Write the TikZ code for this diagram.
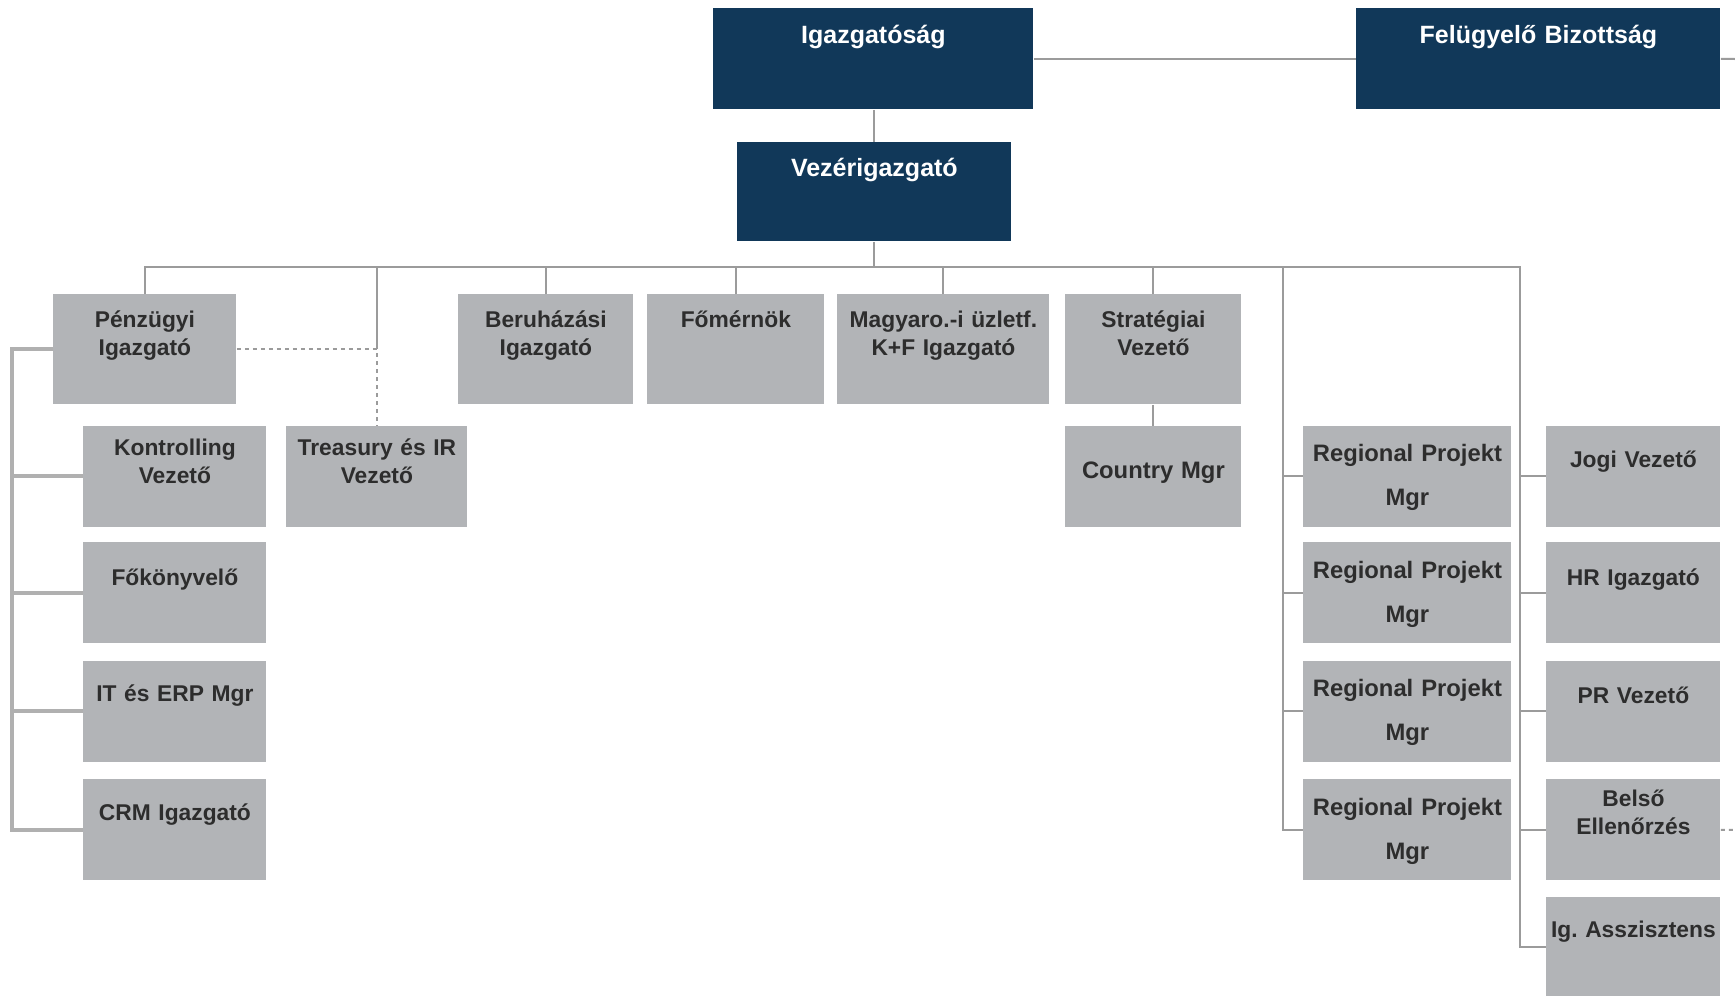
\documentclass[tikz,border=0pt]{standalone}
\usepackage{fontspec}
\newfontfamily\arialf{Liberation Sans}
\definecolor{navy}{RGB}{17,56,89}
\definecolor{boxgray}{RGB}{178,180,183}
\definecolor{linegray}{RGB}{155,155,155}
\definecolor{brkgray}{RGB}{176,176,176}
\definecolor{txtgray}{RGB}{45,45,45}
\newcommand\bosstxt{\arialf\bfseries\fontsize{12.5}{15}\selectfont}
\newcommand\unittxt{\arialf\bfseries\fontsize{11.4}{14}\selectfont}
\newcommand\regtxt{\arialf\bfseries\fontsize{11.9}{22}\selectfont}
\begin{document}
\begin{tikzpicture}[x=0.5pt,y=-0.5pt,
  boss/.style={fill=navy,text=white,font=\bosstxt,inner sep=0pt,align=center,anchor=north west,text height=17.5pt,text depth=33pt},
  unit/.style={fill=boxgray,text=txtgray,font=\unittxt,inner sep=0pt,align=center,anchor=north west},
  lv/.style={text height=#1,text depth=50.5pt-#1},
  toprow/.style={text height=#1,text depth=55pt-#1},
  reg/.style={unit,font=\regtxt,text width=104pt,lv=18pt},
  link/.style={draw=linegray,line width=1pt},
  brk/.style={draw=brkgray,line width=2pt},
  dots/.style={draw=linegray,line width=1pt,dash pattern=on 2pt off 2pt}]
  \useasboundingbox[fill=white] (0,0) rectangle (1735,996);

  \node[boss,text width=160pt] (igaz) at (713,8) {Igazgatóság};
  \node[boss,text width=182pt] (felu) at (1356,8) {Felügyelő Bizottság};
  \node[boss,text width=137pt,text height=17pt,text depth=32.5pt] (vez) at (737,142) {Vezérigazgató};

  \node[unit,toprow=16.5pt,text width=91.5pt] (pen) at (53,294) {Pénzügyi\\Igazgató};
  \node[unit,toprow=16.5pt,text width=87.5pt] (ber) at (458,294) {Beruházási\\Igazgató};
  \node[unit,toprow=16.5pt,text width=88.5pt] (fom) at (647,294) {Főmérnök};
  \node[unit,toprow=16.5pt,text width=106pt] (mag) at (837,294) {Magyaro.-i üzletf.\\K+F Igazgató};
  \node[unit,toprow=16.5pt,text width=88pt] (str) at (1065,294) {Stratégiai\\Vezető};

  \node[unit,lv=15pt,text width=91.5pt] (kon) at (83,425.5) {Kontrolling\\Vezető};
  \node[unit,lv=15pt,text width=90.5pt] (trs) at (286,425.5) {Treasury és IR\\Vezető};
  \node[unit,font=\regtxt,lv=26.5pt,text width=88pt] (cty) at (1065,425.5) {Country Mgr};
  \node[reg] (reg1) at (1303,425.5) {Regional Projekt\\Mgr};
  \node[unit,lv=21pt,text width=87pt] (jog) at (1546,425.5) {Jogi Vezető};

  \node[unit,lv=21.5pt,text width=91.5pt] (fok) at (83,542) {Főkönyvelő};
  \node[reg] (reg2) at (1303,542) {Regional Projekt\\Mgr};
  \node[unit,lv=21.5pt,text width=87pt] (hr) at (1546,542) {HR Igazgató};

  \node[unit,lv=20.5pt,text width=91.5pt] (ite) at (83,660.5) {IT és ERP Mgr};
  \node[reg] (reg3) at (1303,660.5) {Regional Projekt\\Mgr};
  \node[unit,lv=21.5pt,text width=87pt] (pr) at (1546,660.5) {PR Vezető};

  \node[unit,lv=20.5pt,text width=91.5pt] (crm) at (83,779) {CRM Igazgató};
  \node[reg] (reg4) at (1303,779) {Regional Projekt\\Mgr};
  \node[unit,lv=13.5pt,text width=87pt] (bel) at (1546,779) {Belső\\Ellenőrzés};

  \node[unit,text height=20pt,text depth=29.5pt,text width=87pt] (asz) at (1546,897) {Ig.\ Asszisztens};

  \coordinate (rcol) at (1520,267);
  \coordinate (mcol) at (1283,267);
  \coordinate (lsp) at (12,350);
  \coordinate (fend) at (1735,59);
  \coordinate (bend) at (1735,830);

  \draw[link] (igaz.east) -- (felu.west);
  \draw[link] (felu.east) -- (fend);
  \draw[link] (vez.north |- igaz.south) -- (vez.north);
  \draw[link] (vez.south) -- (vez.south |- rcol);
  \draw[link] (pen.north) |- (rcol) |- (asz.west);
  \foreach \n in {ber,fom,mag,str} \draw[link] (\n.north) -- (\n.north |- rcol);
  \draw[link] (trs.north |- rcol) -- (trs.north |- pen.east);
  \draw[dots] (pen.east) -- (trs.north |- pen.east) -- (trs.north);
  \draw[link] (str.south) -- (cty.north);
  \draw[link] (mcol) |- (reg4.west);
  \foreach \n in {reg1,reg2,reg3} \draw[link] (\n.west -| mcol) -- (\n.west);
  \foreach \n in {jog,hr,pr,bel} \draw[link] (\n.west -| rcol) -- (\n.west);
  \draw[dots] (bel.east) -- (bend);
  \draw[brk] (pen.west) -| (crm.west -| lsp) -- (crm.west);
  \foreach \n in {kon,fok,ite} \draw[brk] (\n.west -| lsp) -- (\n.west);
\end{tikzpicture}
\end{document}
